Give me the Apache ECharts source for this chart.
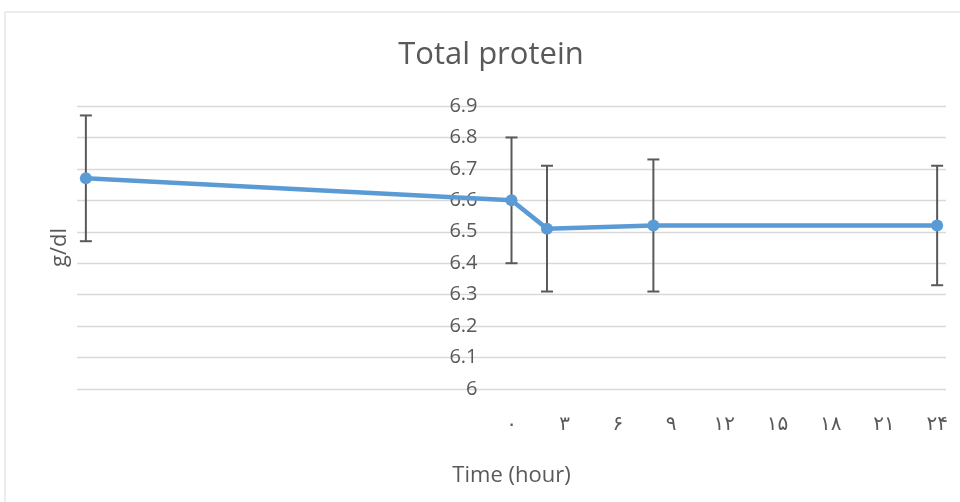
<!DOCTYPE html>
<html>
<head>
<meta charset="utf-8">
<script src="https://cdn.jsdelivr.net/npm/echarts@6/dist/echarts.min.js"></script>
<style>
html,body{margin:0;padding:0;background:#fff;}
#chart{width:960px;height:502px;}
</style>
</head>
<body>
<div id="chart"></div>
<script>
// ---- data ----
const timeHours = [-24, 0, 2, 8, 24];
const meanValues = [6.67, 6.60, 6.51, 6.52, 6.52];
const upperValues = [6.87, 6.80, 6.71, 6.73, 6.71];
const lowerValues = [6.47, 6.40, 6.31, 6.31, 6.33];
const xTickValues = [0, 3, 6, 9, 12, 15, 18, 21, 24];
const xTickLabels = ['۰', '۳', '۶', '۹', '۱۲', '۱۵', '۱۸', '۲۱', '۲۴'];
const titleText = 'Total protein';
const xAxisName = 'Time (hour)';
const yAxisName = 'g/dl';

const textColor = '#595959';
const fontFamily = '"Open Sans", "DejaVu Sans", sans-serif';
const gridLeft = 77;

const lineData = timeHours.map((t, i) => [t, meanValues[i]]);
const errData = timeHours.map((t, i) => [t, lowerValues[i], upperValues[i]]);

const chart = echarts.init(document.getElementById('chart'), null, {renderer: 'canvas'});
chart.setOption({
  animation: false,
  backgroundColor: '#fff',
  title: {
    text: titleText,
    left: 491,
    top: 40,
    padding: 0,
    textAlign: 'center',
    textStyle: {color: textColor, fontFamily: fontFamily, fontSize: 31, fontWeight: 'normal'}
  },
  graphic: [{
    type: 'rect',
    shape: {x: 5, y: 12, width: 1000, height: 600},
    style: {fill: 'none', stroke: '#d9d9d9', lineWidth: 1},
    silent: true,
    z: -1
  }],
  grid: {left: gridLeft, right: 14, top: 106, bottom: 113, containLabel: false, outerBoundsMode: 'none'},
  xAxis: {
    type: 'value',
    min: -24.5,
    max: 24.5,
    name: xAxisName,
    nameLocation: 'middle',
    nameGap: 76,
    nameTextStyle: {color: textColor, fontFamily: fontFamily, fontSize: 22},
    axisLine: {show: false, onZero: false},
    axisTick: {show: false},
    splitLine: {show: false},
    axisLabel: {
      customValues: xTickValues,
      formatter: function (v) {
        const i = xTickValues.indexOf(v);
        return i >= 0 ? xTickLabels[i] : '';
      },
      color: textColor,
      fontFamily: '"DejaVu Sans", sans-serif',
      fontSize: 20,
      lineHeight: 20,
      margin: 26
    }
  },
  yAxis: {
    type: 'value',
    position: 'left',
    min: 6,
    max: 6.9,
    interval: 0.1,
    name: yAxisName,
    nameLocation: 'middle',
    nameGap: 441,
    nameRotate: 90,
    nameTextStyle: {color: textColor, fontFamily: fontFamily, fontSize: 22},
    axisLine: {show: false, onZero: false},
    axisTick: {show: false},
    splitLine: {show: true, lineStyle: {color: '#d9d9d9', width: 1.3}},
    axisLabel: {
      color: textColor,
      fontFamily: fontFamily,
      fontSize: 20,
      margin: 34,
      formatter: function (v) { return String(Math.round(v * 10) / 10); }
    }
  },
  series: [{
    type: 'line',
    data: lineData,
    symbol: 'circle',
    symbolSize: 12,
    lineStyle: {color: '#5B9BD5', width: 4.5},
    itemStyle: {color: '#5B9BD5'},
    z: 3
  }, {
    type: 'custom',
    data: errData,
    z: 2,
    renderItem: function (params, api) {
      const x = api.value(0);
      const lo = api.coord([x, api.value(1)]);
      const hi = api.coord([x, api.value(2)]);
      const half = 6;
      const style = {stroke: '#595959', lineWidth: 2, fill: 'none'};
      return {
        type: 'group',
        children: [
          {type: 'line', shape: {x1: hi[0], y1: hi[1], x2: lo[0], y2: lo[1]}, style: style},
          {type: 'line', shape: {x1: hi[0] - half, y1: hi[1], x2: hi[0] + half, y2: hi[1]}, style: style},
          {type: 'line', shape: {x1: lo[0] - half, y1: lo[1], x2: lo[0] + half, y2: lo[1]}, style: style}
        ]
      };
    }
  }]
});
// Place the value axis where x = 0 (Excel-style crossing), using the library's own scale.
const zeroPx = chart.convertToPixel({xAxisIndex: 0}, 0);
chart.setOption({yAxis: {offset: -(zeroPx - gridLeft)}});
</script>
</body>
</html>
